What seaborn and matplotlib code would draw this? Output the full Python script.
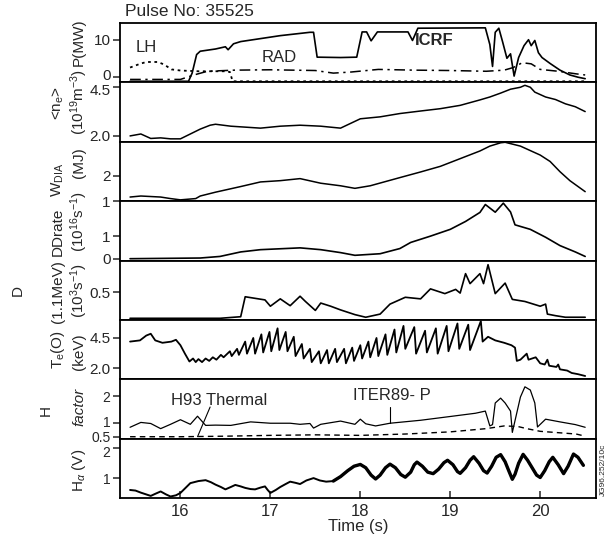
import matplotlib
matplotlib.use("Agg")
import matplotlib.pyplot as plt
from matplotlib.transforms import ScaledTranslation
import seaborn as sns
import pandas as pd

# ---------------- data ----------------
icrf_t = [15.44, 16.09, 16.13, 16.18, 16.22, 16.39, 16.50, 16.53, 16.59, 16.67, 16.89, 17.11, 17.44, 17.48,
          17.52, 17.78, 17.96, 18.02, 18.07, 18.12, 18.19, 18.53, 18.58, 18.64, 19.39, 19.44, 19.47, 19.50,
          19.54, 19.58, 19.63, 19.67, 19.71, 19.76, 19.82, 19.87, 19.90, 19.94, 19.98, 20.02, 20.11, 20.22,
          20.33, 20.42, 20.50]
icrf_p = [-1.2, -1.2, 1.0, 6.0, 6.9, 7.5, 8.1, 7.3, 8.9, 9.5, 10.3, 11.1, 12.0, 12.0,
          5.3, 5.2, 5.3, 12.1, 12.1, 9.7, 12.1, 12.1, 9.8, 13.1, 13.2, 8.7, 2.8, 12.0,
          13.1, 9.6, 5.0, 6.2, 0.2, 5.2, 8.4, 10.0, 8.4, 9.8, 6.5, 5.2, 3.6, 1.8,
          0.5, -0.1, -0.5]

lh_t = [15.44, 15.55, 15.62, 15.75, 15.82, 15.90, 16.00, 16.20, 16.50, 16.55, 16.58, 20.50]
lh_p = [2.5, 3.5, 4.0, 4.0, 3.3, 2.0, 1.7, 1.5, 1.5, 1.3, -1.2, -1.2]

rad_t = [15.44, 16.00, 16.15, 16.30, 16.60, 17.00, 17.50, 17.70, 17.90, 18.20, 18.60, 19.00, 19.40,
         19.60, 19.70, 19.80, 19.90, 20.00, 20.20, 20.40, 20.50]
rad_p = [-0.7, -0.7, 0.5, 1.5, 1.8, 1.9, 1.7, 1.0, 1.3, 2.0, 1.8, 1.7, 1.5,
         1.8, 2.5, 3.8, 3.5, 2.0, 1.5, 0.8, 0.5]

ne_t = [15.44, 15.56, 15.67, 15.78, 15.89, 16.00, 16.11, 16.22, 16.33, 16.39, 16.56, 16.89, 17.11, 17.33,
        17.56, 17.78, 18.00, 18.22, 18.44, 18.67, 18.89, 19.11, 19.33, 19.44, 19.56, 19.67, 19.78, 19.83,
        19.89, 19.94, 20.06, 20.17, 20.28, 20.39, 20.50]
ne_v = [2.0, 2.1, 1.87, 1.9, 1.85, 1.85, 2.1, 2.35, 2.55, 2.6, 2.5, 2.4, 2.5, 2.55,
        2.5, 2.4, 2.88, 2.98, 3.15, 3.28, 3.4, 3.57, 3.85, 4.0, 4.2, 4.4, 4.5, 4.6,
        4.5, 4.25, 4.0, 3.87, 3.65, 3.5, 3.25]

w_t = [15.44, 15.56, 15.78, 15.89, 16.00, 16.17, 16.22, 16.39, 16.67, 16.89, 17.11, 17.33, 17.56, 17.78,
       17.94, 18.11, 18.44, 18.67, 18.89, 19.11, 19.33, 19.44, 19.56, 19.61, 19.78, 20.00, 20.11, 20.22,
       20.33, 20.50]
w_v = [1.16, 1.2, 1.16, 1.1, 1.05, 1.1, 1.2, 1.35, 1.57, 1.75, 1.8, 1.88, 1.7, 1.6,
       1.5, 1.6, 1.92, 2.14, 2.36, 2.66, 2.96, 3.15, 3.28, 3.3, 3.15, 2.8, 2.55, 2.15,
       1.8, 1.37]

dd_t = [15.44, 16.22, 16.44, 16.67, 16.89, 17.33, 17.56, 17.78, 17.94, 18.22, 18.44, 18.56, 18.78, 19.00,
        19.17, 19.33, 19.39, 19.50, 19.59, 19.67, 19.72, 19.89, 20.06, 20.22, 20.39, 20.50]
dd_v = [0.0, 0.03, 0.1, 0.3, 0.4, 0.48, 0.4, 0.27, 0.15, 0.22, 0.45, 0.72, 1.0, 1.3,
        1.65, 2.05, 2.4, 2.06, 2.46, 2.07, 1.5, 1.3, 0.95, 0.58, 0.3, 0.1]

dmev_t = [15.44, 16.44, 16.67, 16.72, 16.83, 16.94, 17.00, 17.11, 17.22, 17.33, 17.39, 17.50, 17.56, 17.67,
          17.78, 17.94, 18.06, 18.22, 18.33, 18.50, 18.67, 18.78, 18.94, 19.06, 19.11, 19.17, 19.22, 19.33,
          19.37, 19.42, 19.50, 19.61, 19.69, 19.83, 20.00, 20.06, 20.08, 20.17, 20.28, 20.50]
dmev_v = [0.0, 0.0, 0.03, 0.41, 0.38, 0.35, 0.23, 0.37, 0.24, 0.42, 0.32, 0.15, 0.29, 0.23,
          0.16, 0.07, 0.02, 0.08, 0.27, 0.4, 0.37, 0.56, 0.47, 0.55, 0.48, 0.85, 0.66, 0.85,
          0.66, 1.02, 0.47, 0.67, 0.36, 0.32, 0.23, 0.27, 0.08, 0.05, 0.02, 0.02]

te_t = [15.44, 15.55, 15.62, 15.67, 15.72, 15.80, 15.90, 15.95, 16.00, 16.05, 16.10, 16.14, 16.17, 16.20,
        16.24, 16.28, 16.32, 16.36, 16.40, 16.45, 16.48, 16.55, 16.57, 16.63, 16.65, 16.72, 16.74, 16.81,
        16.83, 16.90, 16.92, 16.99, 17.01, 17.08, 17.10, 17.17, 17.19, 17.26, 17.28, 17.35, 17.37, 17.44,
        17.46, 17.54, 17.56, 17.63, 17.65, 17.72, 17.74, 17.82, 17.84, 17.91, 17.93, 18.00, 18.02, 18.09,
        18.11, 18.18, 18.20, 18.28, 18.30, 18.38, 18.40, 18.48, 18.50, 18.60, 18.62, 18.72, 18.74, 18.84,
        18.86, 18.96, 18.98, 19.08, 19.10, 19.20, 19.22, 19.34, 19.36, 19.42, 19.50, 19.60, 19.68, 19.72,
        19.74, 19.78, 19.85, 19.87, 19.95, 20.00, 20.05, 20.08, 20.10, 20.18, 20.20, 20.22, 20.30, 20.35,
        20.42, 20.50]
te_v = [4.2, 4.3, 4.7, 4.85, 4.3, 4.1, 4.2, 4.35, 3.9, 3.2, 2.55, 2.8, 2.5, 2.75,
        2.5, 2.8, 2.6, 2.9, 2.7, 3.1, 2.9, 3.4, 3.0, 3.6, 3.1, 4.2, 3.2, 4.5,
        3.2, 4.8, 3.3, 5.0, 3.4, 5.3, 3.5, 5.0, 3.4, 4.6, 3.0, 4.0, 2.8, 3.6,
        2.5, 3.4, 2.4, 3.5, 2.4, 3.6, 2.5, 3.6, 2.4, 3.7, 2.6, 3.9, 2.8, 4.2,
        2.9, 4.5, 3.0, 4.8, 3.1, 5.2, 3.3, 5.5, 3.6, 5.4, 3.2, 5.1, 3.3, 5.3,
        3.2, 5.5, 3.4, 5.7, 3.6, 5.6, 3.5, 5.9, 4.2, 4.6, 4.3, 4.1, 3.9, 3.7,
        2.6, 2.7, 3.2, 2.7, 2.9, 2.4, 2.3, 2.7, 2.2, 2.1, 2.3, 1.9, 1.8, 1.6,
        1.5, 1.35]

iter_t = [15.44, 15.56, 15.67, 15.78, 15.89, 16.00, 16.11, 16.19, 16.28, 16.39, 16.56, 16.78, 17.00, 17.22,
          17.33, 17.44, 17.48, 17.56, 17.78, 17.94, 18.00, 18.06, 18.17, 18.33, 18.67, 19.00, 19.28, 19.39,
          19.44, 19.47, 19.50, 19.56, 19.61, 19.67, 19.69, 19.78, 19.83, 19.89, 19.94, 19.97, 20.06, 20.22,
          20.39, 20.50]
iter_h = [0.85, 1.03, 0.99, 0.8, 0.96, 1.13, 0.96, 1.26, 0.92, 0.93, 0.92, 1.05, 1.0, 1.0,
          0.96, 0.99, 0.82, 0.96, 1.08, 0.96, 1.15, 0.98, 0.9, 1.0, 1.11, 1.25, 1.37, 1.45,
          0.9, 0.95, 1.75, 1.93, 1.75, 1.45, 0.66, 1.97, 2.35, 2.23, 1.75, 0.86, 1.15, 1.05,
          0.95, 0.85]

h93_t = [15.44, 16.00, 16.50, 17.00, 17.50, 18.00, 18.50, 19.00, 19.40, 19.50, 19.60, 19.75, 19.85, 20.00,
         20.20, 20.40, 20.50]
h93_h = [0.5, 0.5, 0.52, 0.55, 0.57, 0.55, 0.6, 0.68, 0.8, 0.85, 0.9, 0.88, 0.8, 0.7,
         0.65, 0.6, 0.52]

ha_t = [15.44, 15.50, 15.56, 15.62, 15.67, 15.72, 15.78, 15.84, 15.89, 15.95, 16.00, 16.06, 16.11, 16.20,
        16.28, 16.34, 16.39, 16.45, 16.50, 16.56, 16.61, 16.67, 16.72, 16.78, 16.83, 16.89, 16.94, 16.97,
        17.00, 17.06, 17.11, 17.17, 17.22, 17.28, 17.33, 17.40, 17.48, 17.55, 17.62, 17.70, 17.78, 17.86,
        17.93, 18.00, 18.06, 18.12, 18.17, 18.22, 18.28, 18.33, 18.39, 18.45, 18.50, 18.56, 18.60, 18.63,
        18.69, 18.75, 18.81, 18.87, 18.93, 18.97, 19.03, 19.08, 19.11, 19.17, 19.22, 19.26, 19.32, 19.37,
        19.41, 19.46, 19.51, 19.56, 19.61, 19.65, 19.69, 19.72, 19.76, 19.81, 19.86, 19.92, 19.96, 20.00,
        20.05, 20.10, 20.14, 20.20, 20.26, 20.31, 20.37, 20.42, 20.48]
ha_v = [0.6, 0.58, 0.51, 0.45, 0.4, 0.47, 0.55, 0.45, 0.38, 0.42, 0.5, 0.68, 0.83, 0.9,
        0.93, 0.86, 0.78, 0.7, 0.62, 0.7, 0.77, 0.72, 0.67, 0.63, 0.62, 0.68, 0.72, 0.6,
        0.5, 0.6, 0.7, 0.8, 0.88, 0.84, 0.8, 0.92, 1.0, 0.92, 0.88, 0.9, 1.05, 1.25,
        1.4, 1.46, 1.35, 1.1, 0.97, 1.1, 1.35, 1.47, 1.35, 1.12, 1.03, 1.2, 1.45, 1.54,
        1.4, 1.2, 1.15, 1.3, 1.52, 1.6, 1.45, 1.22, 1.16, 1.35, 1.6, 1.72, 1.5, 1.25,
        1.17, 1.4, 1.7, 1.79, 1.55, 1.25, 0.96, 1.13, 1.5, 1.8, 1.6, 1.3, 1.1, 1.02,
        1.25, 1.55, 1.7, 1.45, 1.15, 1.4, 1.81, 1.7, 1.43]

x_ticks = [16, 17, 18, 19, 20]

# ---------------- style ----------------
sns.set_style("ticks")
plt.rcParams["font.family"] = ["Liberation Sans", "DejaVu Sans"]
plt.rcParams["mathtext.fontset"] = "custom"
plt.rcParams["mathtext.rm"] = "Liberation Sans"
plt.rcParams["mathtext.it"] = "Liberation Sans:italic"
plt.rcParams["axes.linewidth"] = 1.3
plt.rcParams["axes.edgecolor"] = "black"

fig, axes = plt.subplots(8, 1, figsize=(6.1, 5.43), dpi=100, sharex=True,
                         gridspec_kw=dict(hspace=0))
fig.subplots_adjust(left=0.197, right=0.977, top=0.9576, bottom=0.0829)


def line(ax, t, v, **kw):
    df = pd.DataFrame({"t": t, "v": v})
    sns.lineplot(data=df, x="t", y="v", ax=ax, color="black", estimator=None,
                 sort=False, legend=False, **kw)


# panel 1
ax = axes[0]
line(ax, icrf_t, icrf_p, linewidth=1.2)
line(ax, lh_t, lh_p, linewidth=1.3, linestyle=(0, (1.5, 2)))
line(ax, rad_t, rad_p, linewidth=1.1, linestyle=(0, (7, 3, 1.5, 3)))
ax.set_ylim(-1.5, 14.5)
ax.set_yticks([0, 10])
ax.text(15.62, 8.0, "LH", ha="center", va="center", fontsize=12)
ax.text(17.1, 5.2, "RAD", ha="center", va="center", fontsize=12)
ax.text(18.82, 9.9, "ICRF", ha="center", va="center", fontsize=12, fontweight="bold")

# panel 2
ax = axes[1]
line(ax, ne_t, ne_v, linewidth=1.1)
ax.set_ylim(1.7, 4.75)
ax.set_yticks([2.0, 4.5])
ax.set_yticklabels(["2.0", "4.5"])

# panel 3
ax = axes[2]
line(ax, w_t, w_v, linewidth=1.1)
ax.set_ylim(1.0, 3.32)
ax.set_yticks([1, 2])

# panel 4
ax = axes[3]
line(ax, dd_t, dd_v, linewidth=1.2)
ax.set_ylim(-0.08, 2.55)
ax.set_yticks([0, 1])

# panel 5
ax = axes[4]
line(ax, dmev_t, dmev_v, linewidth=1.2)
ax.set_ylim(-0.03, 1.1)
ax.set_yticks([0.5])

# panel 6
ax = axes[5]
line(ax, te_t, te_v, linewidth=1.3)
ax.set_ylim(1.08, 6.0)
ax.set_yticks([2.0, 4.5])
ax.set_yticklabels(["2.0", "4.5"])

# panel 7
ax = axes[6]
line(ax, iter_t, iter_h, linewidth=0.9)
line(ax, h93_t, h93_h, linewidth=1.0, linestyle=(0, (4, 3)))
ax.set_ylim(0.43, 2.63)
ax.set_yticks([0.5, 1, 2])
ax.set_yticklabels(["0.5", "1", "2"])
ax.text(15.89, 1.85, "H93 Thermal", ha="left", va="center", fontsize=12)
ax.plot([16.33, 16.19], [1.6, 0.5], color="black", linewidth=0.8)
ax.text(17.92, 2.03, "ITER89- P", ha="left", va="center", fontsize=12)
ax.plot([18.33, 18.33], [1.6, 1.0], color="black", linewidth=0.8)

# panel 8
ax = axes[7]
k = ha_t.index(17.70)
line(ax, ha_t, ha_v, linewidth=1.4)
line(ax, ha_t[k:], ha_v[k:], linewidth=2.4)
ax.set_ylim(0.33, 2.33)
ax.set_yticks([1, 2])

for i, ax in enumerate(axes):
    ax.set_xlim(15.33, 20.62)
    ax.set_xlabel("")
    ax.set_ylabel("")
    ax.tick_params(axis="y", direction="out", length=5, width=1.1, labelsize=11, pad=2)
    if i < 7:
        ax.tick_params(axis="x", bottom=False, labelbottom=False)
    for s in ax.spines.values():
        s.set_visible(True)
        s.set_linewidth(1.3)

axes[6].tick_params(axis="y", labelsize=10)
axes[7].tick_params(axis="y", labelsize=10)
axes[7].set_xticks(x_ticks)
axes[7].tick_params(axis="x", direction="in", length=5, width=1.1, labelsize=12, pad=4)
axes[7].set_xlabel("Time (s)", fontsize=12, labelpad=0)


def nudge(ax, idx, dy_px):
    lab = ax.get_yticklabels()[idx]
    lab.set_transform(lab.get_transform() + ScaledTranslation(0, dy_px / 100, fig.dpi_scale_trans))


nudge(axes[0], 0, 2)
nudge(axes[1], 1, -2)
nudge(axes[6], 1, 2)
nudge(axes[6], 0, 0)
nudge(axes[7], 1, -3)

fig.text(125 / 610, 1 - 12 / 543, "Pulse No: 35525", ha="left", va="center", fontsize=12.5)


# stacked y labels (pixel positions converted to figure fraction)
def ylab(x, y, s, **kw):
    fig.text(x / 610, 1 - y / 543, s, rotation=90, ha="center", va="center", fontsize=11, **kw)


XI, XO = 79, 58
ylab(XI, 42, "P(MW)")
ylab(XI, 102, r"(10$^{19}$m$^{-3}$)")
ylab(XO, 103, r"<n$_{\rm e}$>")
ylab(XI, 163, "(MJ)")
ylab(XO, 180, r"W$_{\rm DIA}$")
ylab(XI, 222, r"(10$^{16}$s$^{-1}$)")
ylab(XO, 232, "DDrate")
ylab(XI, 290, r"(10$^{3}$s$^{-1}$)")
ylab(XO, 292, "(1.1MeV)")
ylab(18, 290, "D")
ylab(XI, 352, "(keV)")
ylab(XO, 350, r"T$_{\rm e}$(O)")
ylab(XI, 407, "factor", style="italic")
ylab(46, 410, "H")
ylab(XI, 470, r"H$_\alpha$ (V)")

fig.text(603 / 610, 1 - 470 / 543, "JG96.252/10c", rotation=90, ha="center", va="center", fontsize=6)

fig.savefig("out.png", dpi=100)
